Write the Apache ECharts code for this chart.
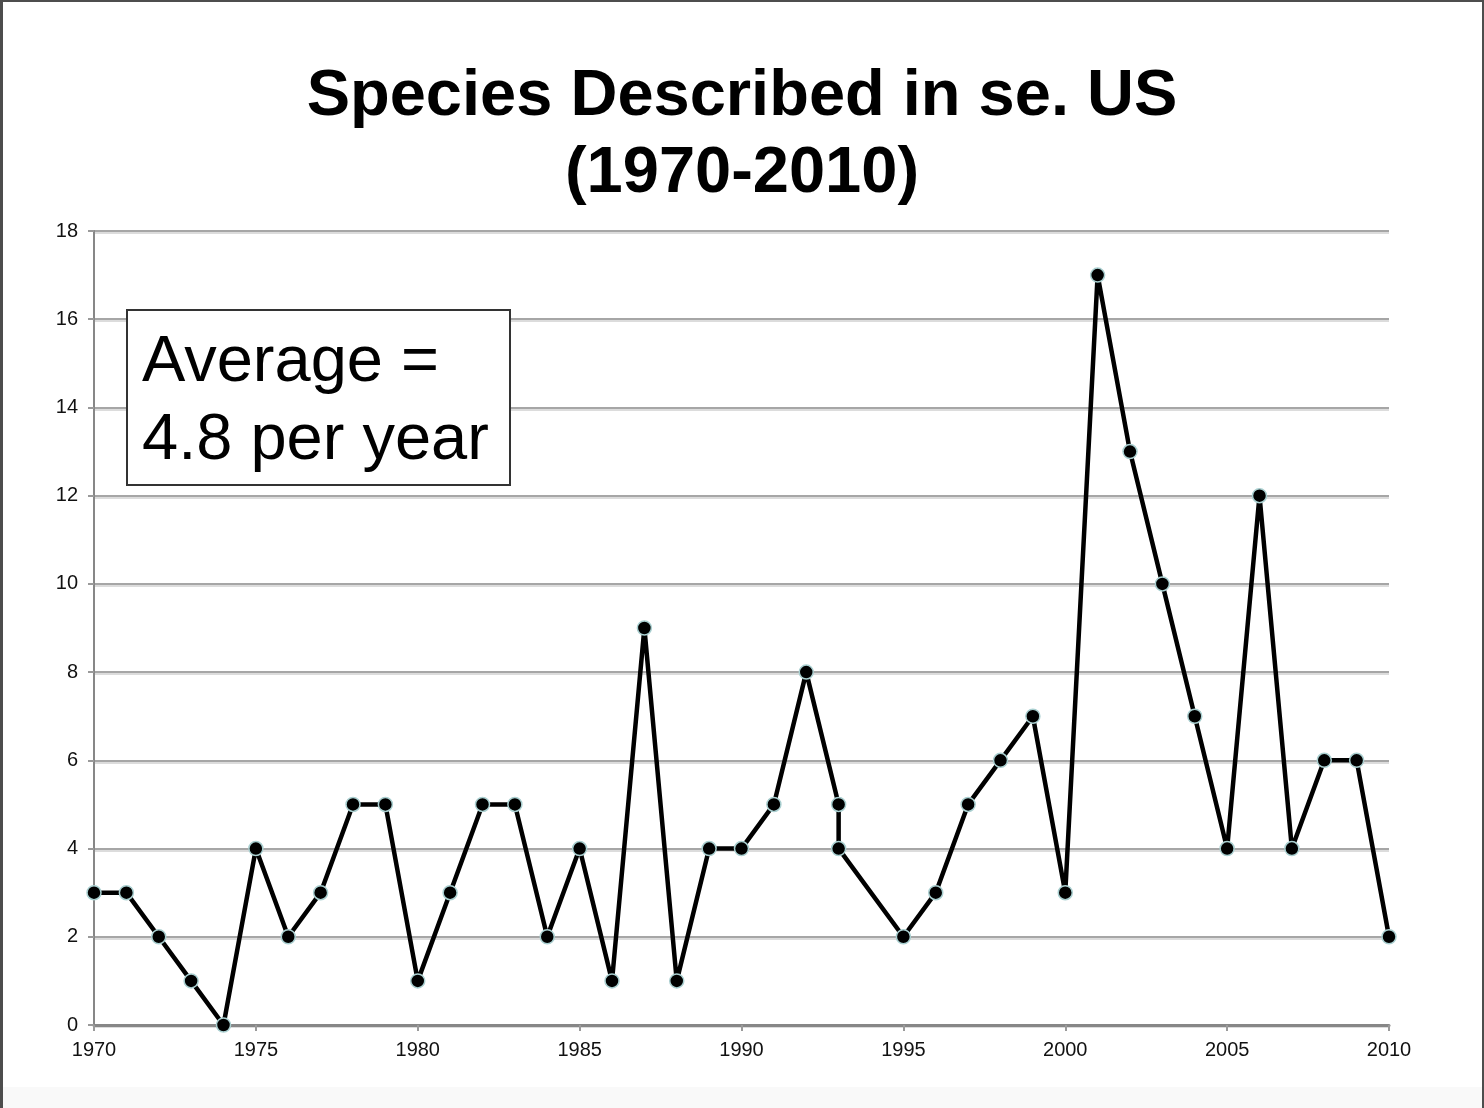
<!DOCTYPE html>
<html>
<head>
<meta charset="utf-8">
<title>Species Described in se. US</title>
<script src="https://cdn.jsdelivr.net/npm/echarts@6/dist/echarts.min.js"></script>
<style>
  html, body { margin: 0; padding: 0; }
  body { background: linear-gradient(to bottom, #ffffff 1087px, #f9f9f9 1087px); }
  #J_chart { width: 1484px; height: 1108px; position: relative; }
  #J_frame {
    position: absolute; left: 0; top: 0; width: 1484px; height: 1108px;
    box-sizing: border-box; pointer-events: none;
    border-left: 3px solid #4d4d4d; border-top: 2px solid #4d4d4d; border-right: 2px solid #4d4d4d;
  }
</style>
</head>
<body>
<div id="J_chart"></div>
<div id="J_frame"></div>
<script>
// 年份与每年描述的物种数（1993 年有两个点，1994 缺）
var years = [1970, 1971, 1972, 1973, 1974, 1975, 1976, 1977, 1978, 1979,
  1980, 1981, 1982, 1983, 1984, 1985, 1986, 1987, 1988, 1989,
  1990, 1991, 1992, 1993, 1993, 1995, 1996, 1997, 1998, 1999,
  2000, 2001, 2002, 2003, 2004, 2005, 2006, 2007, 2008, 2009, 2010];
var counts = [3, 3, 2, 1, 0, 4, 2, 3, 5, 5,
  1, 3, 5, 5, 2, 4, 1, 9, 1, 4,
  4, 5, 8, 5, 4, 2, 3, 5, 6, 7,
  3, 17, 13, 10, 7, 4, 12, 4, 6, 6, 2];

// 坐标轴刻度
var xTicks = [1970, 2010, 5];
var yTicks = [0, 18, 2];

var titleText = 'Species Described in se. US\n(1970-2010)';
var noteText = 'Average =\n4.8 per year';

var font = '"Liberation Sans", Arial, sans-serif';

// 组装数据点
var points = [];
for (var i = 0; i < years.length; i++) {
  points.push([years[i], counts[i]]);
}

var chart = echarts.init(document.getElementById('J_chart'), null, { renderer: 'canvas' });

chart.setOption({
  backgroundColor: 'transparent',
  animation: false,
  title: {
    text: titleText,
    left: 'center',
    top: 59,
    padding: [0, 8, 0, 0],
    textStyle: {
      fontFamily: font,
      fontSize: 65,
      fontWeight: 'bold',
      lineHeight: 77,
      color: '#000'
    }
  },
  grid: {
    left: 94,
    right: 95,
    top: 231,
    bottom: 83
  },
  xAxis: {
    type: 'value',
    min: xTicks[0],
    max: xTicks[1],
    interval: xTicks[2],
    axisLine: { show: true, lineStyle: { color: '#878787', width: 3 } },
    axisTick: { show: true, length: 6, lineStyle: { color: '#9a9a9a', width: 2 } },
    splitLine: { show: false },
    axisLabel: {
      margin: 15,
      fontFamily: font,
      fontSize: 20,
      color: '#111',
      formatter: function (v) { return String(v); }
    }
  },
  yAxis: {
    type: 'value',
    min: yTicks[0],
    max: yTicks[1],
    interval: yTicks[2],
    axisLine: { show: true, lineStyle: { color: '#878787', width: 2 } },
    axisTick: { show: true, length: 6, lineStyle: { color: '#9a9a9a', width: 2 } },
    splitLine: {
      show: true,
      lineStyle: { color: '#a6a6a6', width: 2, shadowColor: '#dcdcdc', shadowOffsetY: 2, shadowBlur: 0 }
    },
    axisLabel: {
      margin: 16,
      fontFamily: font,
      fontSize: 20,
      color: '#111'
    }
  },
  // 平均值说明框
  graphic: [{
    type: 'rect',
    shape: { x: 127, y: 310, width: 383, height: 175 },
    style: { fill: '#fff', stroke: '#333', lineWidth: 2 },
    z: 10
  }, {
    type: 'text',
    x: 142,
    y: 324,
    style: {
      text: noteText,
      font: '65px ' + font,
      lineHeight: 78,
      fill: '#000',
      verticalAlign: 'top'
    },
    z: 11
  }],
  series: [{
    type: 'line',
    data: points,
    clip: false,
    symbol: 'circle',
    symbolSize: 14,
    lineStyle: { color: '#000', width: 4.5 },
    itemStyle: { color: '#000', borderColor: '#a9cfd0', borderWidth: 1.5 },
    z: 5
  }]
});
</script>
</body>
</html>
